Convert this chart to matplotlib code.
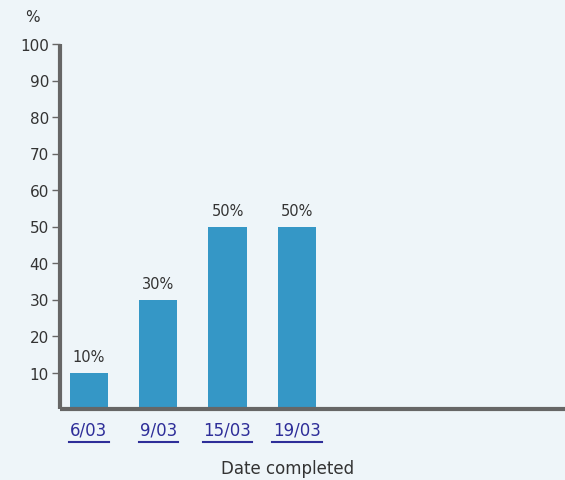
import matplotlib
matplotlib.use("Agg")
import matplotlib.pyplot as plt
import numpy as np

plt.rcParams['font.family'] = ['DejaVu Sans']

categories = ["6/03", "9/03", "15/03", "19/03"]
values = [10, 30, 50, 50]
bar_labels = ["10%", "30%", "50%", "50%"]
yticks = [10, 20, 30, 40, 50, 60, 70, 80, 90, 100]

bg = "#eef5f9"
bar_color = "#3597c6"
axis_color = "#666666"
link_color = "#2e2e99"
text_color = "#333333"

fig = plt.figure(figsize=(5.65, 4.81), dpi=100, facecolor=bg)
ax = fig.add_axes([60/565, 1-410/481, 505/565, (410-45)/481])
ax.set_facecolor(bg)

x = np.arange(len(categories))
bars = ax.bar(x, values, width=0.55, color=bar_color, zorder=2)
ax.set_xlim(-0.418, 6.87)
ax.set_ylim(0, 100)

for b, lab in zip(bars, bar_labels):
    ax.annotate(lab, (b.get_x() + b.get_width()/2, b.get_height()),
                xytext=(0, 6), textcoords="offset points", ha="center", va="bottom",
                fontsize=10.5, color=text_color)

for s in ["top", "right"]:
    ax.spines[s].set_visible(False)
for s in ["left", "bottom"]:
    ax.spines[s].set_color(axis_color)
    ax.spines[s].set_linewidth(3)
    ax.spines[s].set_capstyle("butt")

ax.set_yticks(yticks)
ax.set_yticklabels([str(v) for v in yticks], fontsize=11, color=text_color)
ax.tick_params(axis="y", length=6, width=1, color=axis_color, pad=2)
ax.set_xticks(x)
ax.set_xticklabels(categories, fontsize=12, color=link_color)
ax.tick_params(axis="x", length=0, pad=8)

ax.set_xlabel("Date completed", fontsize=12, color=text_color)
ax.xaxis.set_label_coords((288-60)/505, -(460-410)/365)

fig.text(32/565, 1-17/481, "%", fontsize=11, color=text_color, ha="center", va="center")

# underline tick labels
fig.canvas.draw()
r = fig.canvas.get_renderer()
for t in ax.get_xticklabels():
    bb = t.get_window_extent(r)
    yline = bb.y0 - 4
    fig.add_artist(plt.Line2D([(bb.x0 - 1)/565, (bb.x1 + 1)/565], [yline/481, yline/481],
                              color=link_color, linewidth=1.5,
                              transform=fig.transFigure))

fig.savefig("out.png", dpi=100, facecolor=bg)
